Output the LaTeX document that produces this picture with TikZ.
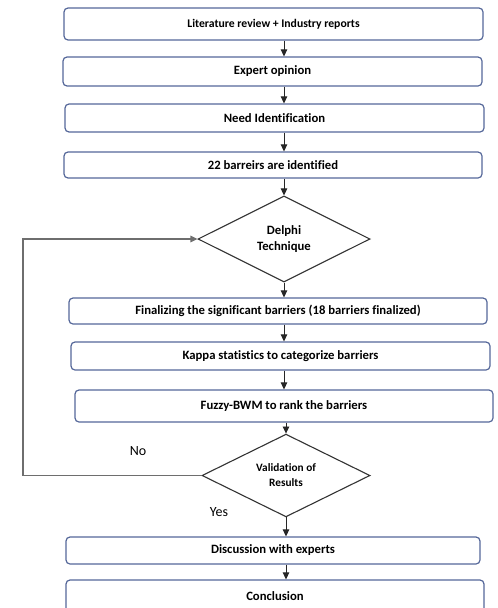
\documentclass[tikz,border=0pt]{standalone}
\usepackage{fontspec}
\setmainfont{Carlito}[Ligatures=NoCommon]
\usetikzlibrary{arrows.meta,shapes.geometric}
\definecolor{boxline}{HTML}{56689A}
\definecolor{loopline}{HTML}{6E6E6E}
\begin{document}
\begin{tikzpicture}[x=1pt,y=-1pt,
  stepbox/.style={draw=boxline,line width=1.2pt,rounded corners=4pt,fill=white,
    inner sep=0pt,font=\fontsize{12.7}{14}\selectfont\bfseries},
  decision/.style={diamond,draw=black!80,line width=1.1pt,inner sep=0pt,
    align=center,font=\fontsize{12.7}{16}\selectfont\bfseries},
  flow/.style={draw=black!85,line width=0.8pt,-{Triangle[width=6.5pt,length=7pt]}},
  loop/.style={draw=loopline,line width=1.1pt,-{Triangle[width=6.5pt,length=7pt]}},
  answer/.style={font=\fontsize{14}{16}\selectfont}]
\useasboundingbox (0,0) rectangle (498,608);
\clip (0,0) rectangle (498,608);
\fill[white] (0,0) rectangle (498,608);

% process steps
\node[stepbox,minimum width=419pt,minimum height=32pt,font=\fontsize{11.7}{13}\selectfont\bfseries] (lit) at (273.5,24) {Literature review + Industry reports};
\node[stepbox,minimum width=419pt,minimum height=29pt] (exp) at (272.5,71.5) {Expert opinion};
\node[stepbox,minimum width=419pt,minimum height=28pt] (need) at (274.5,118) {Need Identification};
\node[stepbox,minimum width=418pt,minimum height=26pt] (ident) at (273,165) {22 barreirs are identified};
\node[decision,minimum width=172pt,minimum height=86pt] (delphi) at (284,239) {Delphi\\Technique};
\node[stepbox,minimum width=418pt,minimum height=26pt] (final) at (278,311) {Finalizing the significant barriers (18 barriers finalized)};
\node[stepbox,minimum width=419pt,minimum height=28pt] (kappa) at (280.5,356) {Kappa statistics to categorize barriers};
\node[stepbox,minimum width=418pt,minimum height=32pt] (fuzzy) at (284,406) {Fuzzy-BWM to rank the barriers};
\node[decision,minimum width=168pt,minimum height=79pt,font=\fontsize{11.3}{15}\selectfont\bfseries] (valid) at (286,475.5) {Validation of\\Results};
\node[stepbox,minimum width=414pt,minimum height=27pt] (disc) at (273,550.5) {Discussion with experts};
\node[stepbox,minimum width=418pt,minimum height=32pt] (concl) at (275,596) {Conclusion};

% main flow
\coordinate (axisA) at (284,0);
\coordinate (axisB) at (286,0);
\draw[flow] (lit.south -| axisA) -- (exp.north -| axisA);
\draw[flow] (exp.south -| axisA) -- (need.north -| axisA);
\draw[flow] (need.south -| axisA) -- (ident.north -| axisA);
\draw[flow] (ident.south -| axisA) -- (delphi.north);
\draw[flow] (delphi.south) -- (final.north -| axisA);
\draw[flow] (final.south -| axisA) -- (kappa.north -| axisA);
\draw[flow] (kappa.south -| axisA) -- (fuzzy.north -| axisA);
\draw[flow] (fuzzy.south -| axisB) -- (valid.north);
\draw[flow] (valid.south) -- (disc.north -| axisB);
\draw[flow] (disc.south -| axisB) -- (concl.north -| axisB);

% feedback loop
\coordinate (loopL) at (23,0);
\draw[loop] (valid.west) -- (valid.west -| loopL) -- (delphi.west -| loopL) -- (delphi.west);

\node[answer] (no) at (138,451) {No};
\node[answer] (yes) at (219,512) {Yes};
\end{tikzpicture}
\end{document}
